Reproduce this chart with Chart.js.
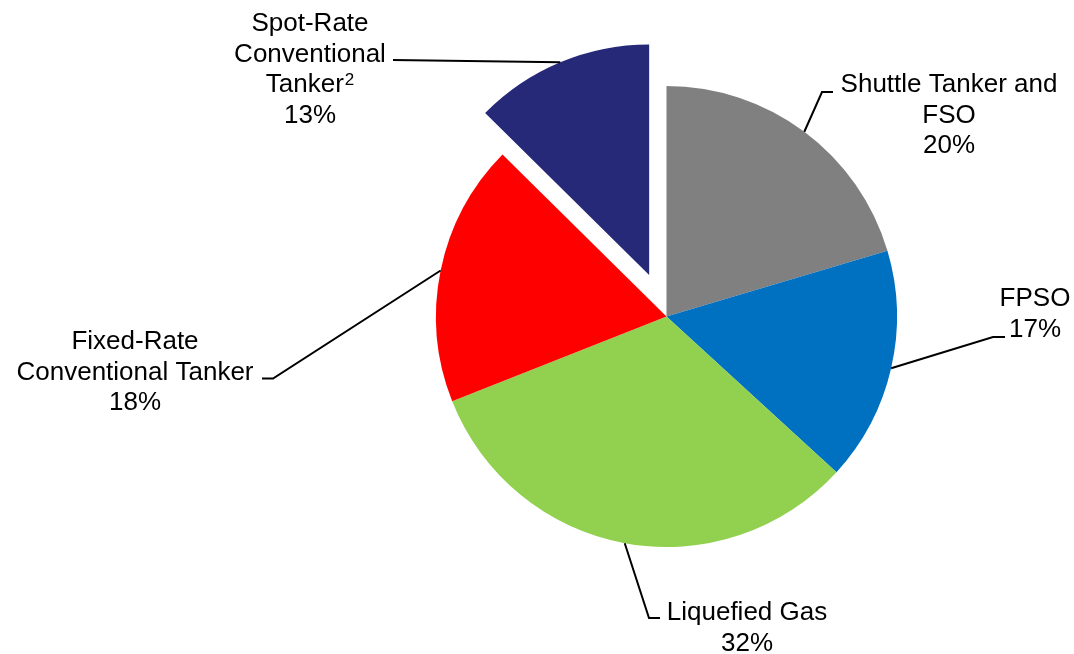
<!DOCTYPE html>
<html>
<head>
<meta charset="utf-8">
<script src="https://cdn.jsdelivr.net/npm/chart.js@4.4.1/dist/chart.umd.min.js"></script>
<style>
  html, body { margin: 0; padding: 0; background: #fff; }
  #wrap { width: 1074px; height: 654px; position: relative; }
</style>
</head>
<body>
<div id="wrap"><canvas id="segmentChart"></canvas></div>
<script>
// segments, clockwise from 12 o'clock
const categories = [
    "Shuttle Tanker and FSO",
    "FPSO",
    "Liquefied Gas",
    "Fixed-Rate Conventional Tanker",
    "Spot-Rate Conventional Tanker"
];
// slice sizes
const shares = [20.4, 16.4, 32.2, 18.4, 12.6];
// percentages as printed on the labels
const printedPct = [20, 17, 32, 18, 13];
// how the label text wraps
const labelLines = [
    ["Shuttle Tanker and", "FSO"],
    ["FPSO"],
    ["Liquefied Gas"],
    ["Fixed-Rate", "Conventional Tanker"],
    ["Spot-Rate", "Conventional", "Tanker"]
];
const footnotes = ["", "", "", "", "2"];

const colors = ["#808080", "#0070C0", "#92D050", "#FF0000", "#262878"];
const explode = [0, 0, 0, 0, 45];

// label placement: text centre x, first baseline, leader elbow and end
const labelPos = [
    { x: 949, y: 92, pts: [[822, 92], [833, 92]] },
    { x: 1035, y: 306, pts: [[993, 337], [1005, 337]] },
    { x: 747, y: 620, pts: [[649, 618], [660, 618]] },
    { x: 135, y: 349, pts: [[273, 378.5], [262, 378.5]] },
    { x: 310, y: 31, pts: [[393, 60]] }
];
const lineHeight = 30.5;
const labelFont = '26px "Liberation Sans", Arial, sans-serif';
const supFont = '17px "Liberation Sans", Arial, sans-serif';

const explodePlugin = {
    id: "explode",
    afterUpdate(chart) {
        chart.getDatasetMeta(0).data.forEach((arc, i) => {
            const d = explode[i];
            if (!d) return;
            const mid = (arc.startAngle + arc.endAngle) / 2;
            arc.x += Math.cos(mid) * d;
            arc.y += Math.sin(mid) * d;
        });
    }
};

const labelPlugin = {
    id: "leaderLabels",
    afterDatasetsDraw(chart) {
        const ctx = chart.ctx;
        const arcs = chart.getDatasetMeta(0).data;
        ctx.save();
        arcs.forEach((arc, i) => {
            const mid = (arc.startAngle + arc.endAngle) / 2;
            const sx = arc.x + Math.cos(mid) * arc.outerRadius;
            const sy = arc.y + Math.sin(mid) * arc.outerRadius;
            const pos = labelPos[i];

            ctx.beginPath();
            ctx.moveTo(sx, sy);
            pos.pts.forEach(p => ctx.lineTo(p[0], p[1]));
            ctx.strokeStyle = "#000";
            ctx.lineWidth = 2;
            ctx.stroke();

            const lines = labelLines[i].concat([printedPct[i] + "%"]);
            ctx.fillStyle = "#000";
            ctx.textBaseline = "alphabetic";
            lines.forEach((txt, j) => {
                const y = pos.y + j * lineHeight;
                const isLast = j === labelLines[i].length - 1;
                const sup = isLast ? footnotes[i] : "";
                ctx.font = labelFont;
                const w = ctx.measureText(txt).width;
                ctx.font = supFont;
                const sw = sup ? ctx.measureText(sup).width + 1 : 0;
                const left = pos.x - (w + sw) / 2;
                ctx.textAlign = "left";
                ctx.font = labelFont;
                ctx.fillText(txt, left, y);
                if (sup) {
                    ctx.font = supFont;
                    ctx.fillText(sup, left + w + 1, y - 7);
                }
            });
        });
        ctx.restore();
    }
};

new Chart(document.getElementById("segmentChart"), {
    type: "pie",
    data: {
        labels: categories,
        datasets: [{
            data: shares,
            backgroundColor: colors,
            borderWidth: 0
        }]
    },
    options: {
        responsive: true,
        maintainAspectRatio: false,
        animation: false,
        radius: 230.5,
        layout: {
            padding: { top: 63.5, bottom: 84.5, left: 400.5, right: 141.5 }
        },
        plugins: {
            legend: { display: false },
            tooltip: { enabled: false }
        }
    },
    plugins: [explodePlugin, labelPlugin]
});
</script>
</body>
</html>
